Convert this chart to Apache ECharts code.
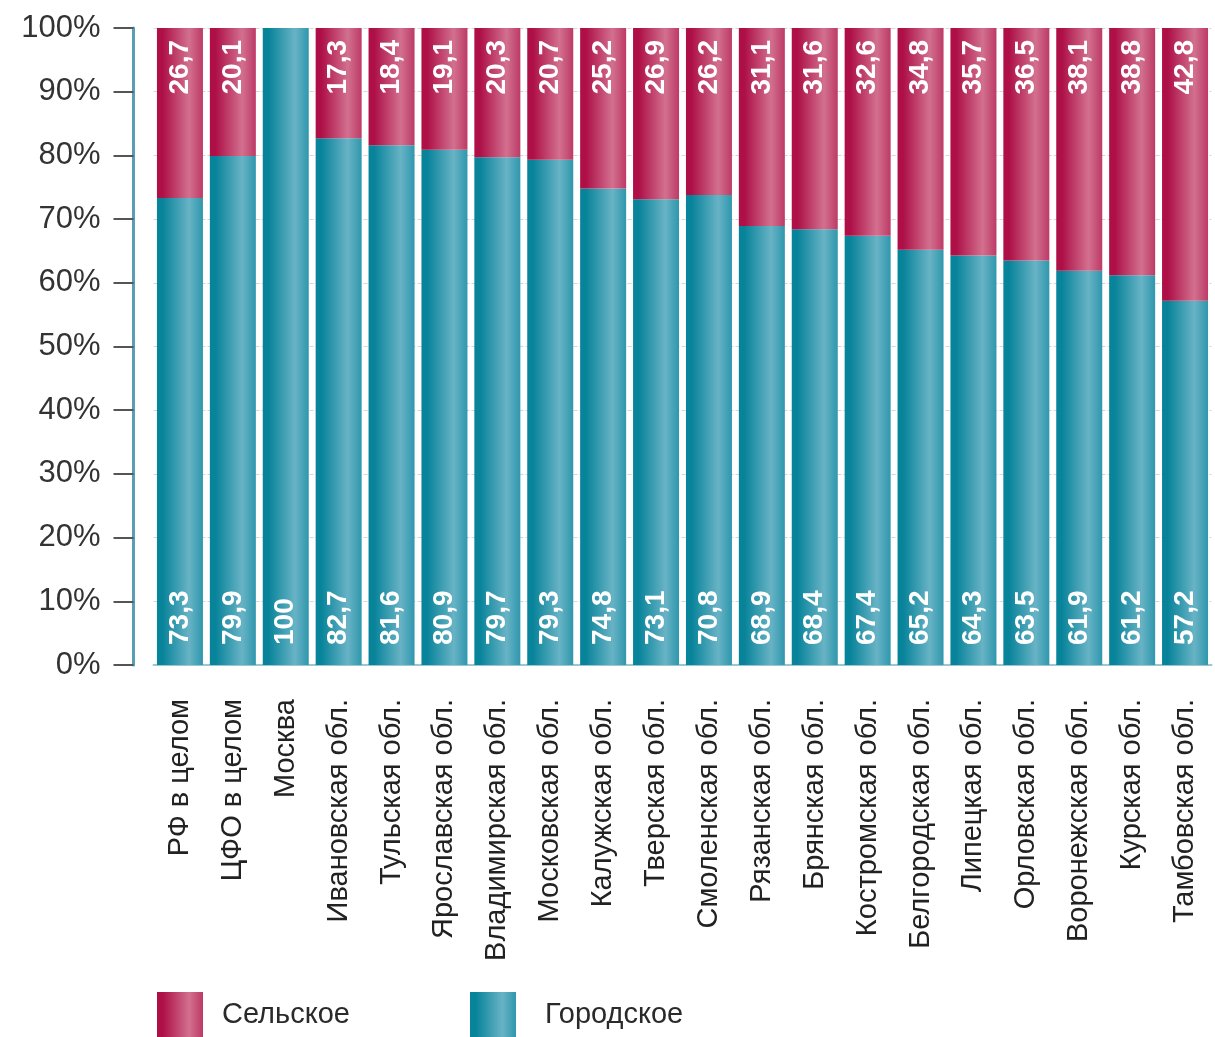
<!DOCTYPE html>
<html>
<head>
<meta charset="utf-8">
<script src="https://cdn.jsdelivr.net/npm/echarts@6/dist/echarts.min.js"></script>
<style>html,body{margin:0;padding:0;background:#fff;}#c{width:1215px;height:1037px;}</style>
</head>
<body>
<div id="c"></div>
<script>
const categories = ['РФ в целом','ЦФО в целом','Москва','Ивановская обл.','Тульская обл.','Ярославская обл.','Владимирская обл.','Московская обл.','Калужская обл.','Тверская обл.','Смоленская обл.','Рязанская обл.','Брянская обл.','Костромская обл.','Белгородская обл.','Липецкая обл.','Орловская обл.','Воронежская обл.','Курская обл.','Тамбовская обл.'];
// bar heights as drawn in the picture (Смоленская bar reaches ~73.8 although it is labelled 70,8)
const urban = [73.3, 79.9, 100, 82.7, 81.6, 80.9, 79.7, 79.3, 74.8, 73.1, 73.8, 68.9, 68.4, 67.4, 65.2, 64.3, 63.5, 61.9, 61.2, 57.2];
const rural = [26.7, 20.1, 0, 17.3, 18.4, 19.1, 20.3, 20.7, 25.2, 26.9, 26.2, 31.1, 31.6, 32.6, 34.8, 35.7, 36.5, 38.1, 38.8, 42.8];
// labels as printed on the bars
const urbanLabels = ['73,3','79,9','100','82,7','81,6','80,9','79,7','79,3','74,8','73,1','70,8','68,9','68,4','67,4','65,2','64,3','63,5','61,9','61,2','57,2'];
const ruralLabels = ['26,7','20,1','','17,3','18,4','19,1','20,3','20,7','25,2','26,9','26,2','31,1','31,6','32,6','34,8','35,7','36,5','38,1','38,8','42,8'];
const yTicks = ['0%','10%','20%','30%','40%','50%','60%','70%','80%','90%','100%'];

const FONT = "'Liberation Sans', Arial, sans-serif";
function grad(dark, light, edge) {
  return new echarts.graphic.LinearGradient(0, 0, 1, 0, [
    {offset: 0, color: dark},
    {offset: 0.12, color: dark},
    {offset: 0.7, color: light},
    {offset: 1, color: edge}
  ]);
}
const ruralColor = grad('#ad0f46', '#d2708f', '#bd3a66');
const urbanColor = grad('#07839a', '#68b3c5', '#2f97ad');

const chart = echarts.init(document.getElementById('c'), null, {renderer: 'canvas'});
chart.setOption({
  animation: false,
  backgroundColor: '#ffffff',
  grid: {left: 153.5, right: 3.5, top: 28, bottom: 372, containLabel: false},
  legend: [
    {data: ['Сельское'], left: 157, top: 992, padding: 0, itemWidth: 46, itemHeight: 46, icon: 'rect',
     textStyle: {fontFamily: FONT, fontSize: 29, color: '#2a2a2a', padding: [0, 0, 0, 14]}},
    {data: ['Городское'], left: 470, top: 992, padding: 0, itemWidth: 46, itemHeight: 46, icon: 'rect',
     textStyle: {fontFamily: FONT, fontSize: 29, color: '#2a2a2a', padding: [0, 0, 0, 24]}}
  ],
  xAxis: {
    type: 'category',
    data: categories,
    axisLine: {lineStyle: {color: '#9cc6d1', width: 2}},
    axisTick: {alignWithLabel: true, length: 18, lineStyle: {color: '#b5b5b5', width: 2}},
    axisLabel: {rotate: 90, interval: 0, margin: 34, fontFamily: FONT, fontSize: 29, color: '#222'}
  },
  yAxis: {
    type: 'value',
    min: 0, max: 100, interval: 10,
    offset: 20,
    axisLine: {show: true, lineStyle: {color: '#5a9fb1', width: 3}},
    axisTick: {show: true, length: 20, lineStyle: {color: '#555', width: 2}},
    axisLabel: {fontFamily: FONT, fontSize: 31, color: '#333', margin: 33,
      formatter: function (v) { return yTicks[Math.round(v / 10)]; }},
    splitLine: {show: true, lineStyle: {color: '#d6d6d6', type: 'dashed', width: 1}}
  },
  series: [
    {
      name: 'Городское', type: 'bar', stack: 'total', barWidth: 46,
      data: urban, itemStyle: {color: urbanColor},
      label: {show: true, position: 'insideBottom', rotate: 90, align: 'left', verticalAlign: 'middle',
        distance: 20, color: '#fff', fontWeight: 'bold', fontFamily: FONT, fontSize: 28,
        formatter: function (p) { return urbanLabels[p.dataIndex]; }}
    },
    {
      name: 'Сельское', type: 'bar', stack: 'total', barWidth: 46,
      data: rural, itemStyle: {color: ruralColor},
      label: {show: true, position: 'insideTop', rotate: 90, align: 'right', verticalAlign: 'middle',
        distance: 12, color: '#fff', fontWeight: 'bold', fontFamily: FONT, fontSize: 28,
        formatter: function (p) { return ruralLabels[p.dataIndex]; }}
    }
  ]
});
</script>
</body>
</html>
